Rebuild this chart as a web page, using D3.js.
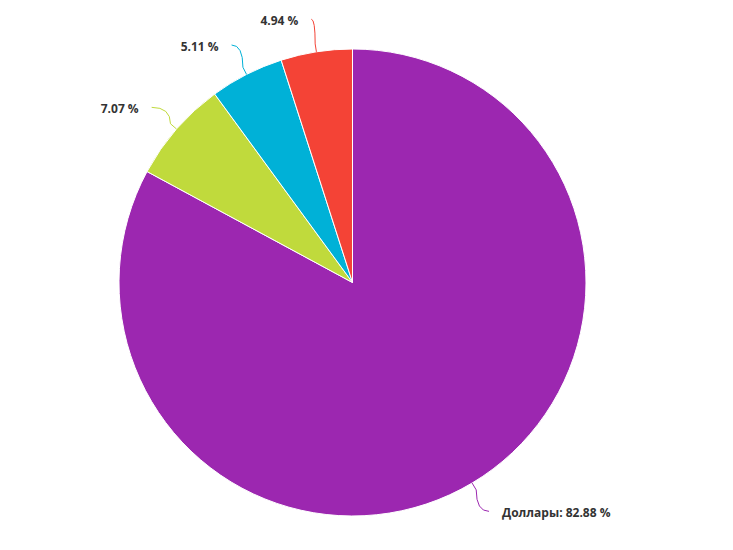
<!DOCTYPE html>
<html>
<head>
<meta charset="utf-8">
<script src="https://cdn.jsdelivr.net/npm/d3@7"></script>
<style>
  body { margin: 0; background: #fff; }
  text { font-family: "Open Sans", sans-serif; font-weight: bold; font-size: 12px; fill: #333; }
</style>
</head>
<body>
<svg id="chart" width="733" height="550"></svg>
<script>
// pie data, clockwise from 12 o'clock
const categories = ["Доллары", "", "", ""];
const values = [82.88, 7.07, 5.11, 4.94];
const colors = ["#9c27b0", "#c0da3c", "#00b1d7", "#f44336"];

const width = 733, height = 550;
const cx = 352.5, cy = 282.5, radius = 233.5;
const labelDist = 33, labelGap = 13;

const svg = d3.select("#chart");
const g = svg.append("g").attr("transform", `translate(${cx}, ${cy})`);

const data = values.map((v, i) => ({ name: categories[i], value: v, color: colors[i] }));

const pie = d3.pie().sort(null).value(d => d.value);
const arc = d3.arc().innerRadius(0).outerRadius(radius);
const arcs = pie(data);

// slices
g.selectAll(".slice")
  .data(arcs)
  .enter().append("path")
  .attr("class", "slice")
  .attr("d", arc)
  .attr("fill", d => d.data.color)
  .attr("stroke", "#fff")
  .attr("stroke-width", 1);

// point at radius r along the slice middle
function polar(a, r) {
  return [Math.sin(a) * r, -Math.cos(a) * r];
}

// connectors
arcs.forEach(d => {
  const mid = (d.startAngle + d.endAngle) / 2;
  const edge = polar(mid, radius);
  const p1 = polar(mid, radius + 8);
  const anchor = polar(mid, radius + labelDist);
  const path = d3.path();
  path.moveTo(edge[0], edge[1]);
  path.lineTo(p1[0], p1[1]);
  path.quadraticCurveTo(p1[0], anchor[1], anchor[0], anchor[1]);
  g.append("path")
    .attr("d", path.toString())
    .attr("fill", "none")
    .attr("stroke", d.data.color)
    .attr("stroke-width", 1);

  const right = anchor[0] > 0;
  const label = (d.data.name ? d.data.name + ": " : "") + d.data.value.toFixed(2) + " %";
  g.append("text")
    .attr("x", anchor[0] + (right ? labelGap : -labelGap))
    .attr("y", anchor[1] + 1)
    .attr("dominant-baseline", "central")
    .attr("text-anchor", right ? "start" : "end")
    .text(label);
});
</script>
</body>
</html>
